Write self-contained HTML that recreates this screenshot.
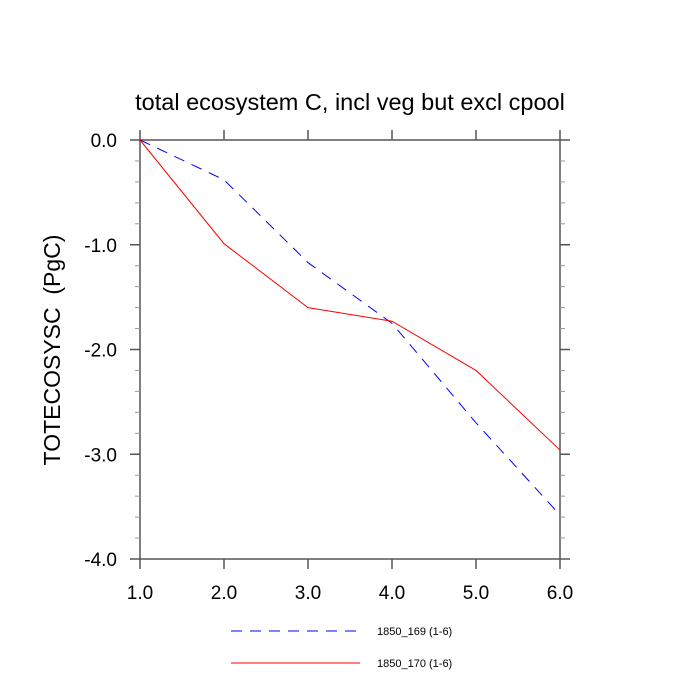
<!DOCTYPE html>
<html><head><meta charset="utf-8"><style>body{margin:0;background:#fff}svg{display:block}</style></head>
<body>
<svg id="chart" width="700" height="700" xmlns="http://www.w3.org/2000/svg" font-family="Liberation Sans, sans-serif">
<text x="350" y="110" text-anchor="middle" font-size="23.5">total ecosystem C, incl veg but excl cpool</text>
<text transform="translate(60,350) rotate(-90)" text-anchor="middle" font-size="23" style="white-space:pre">TOTECOSYSC  (PgC)</text>
<g id="axes"></g>
<g id="series"></g>
<g id="legend"></g>
</svg>
<script>
const xs = [1, 2, 3, 4, 5, 6];
const blueVals = [0, -0.38, -1.17, -1.75, -2.7, -3.58];
const redVals = [0, -0.99, -1.6, -1.73, -2.2, -2.96];
const xTicks = ["1.0","2.0","3.0","4.0","5.0","6.0"];
const yTicks = ["0.0","-1.0","-2.0","-3.0","-4.0"];
const seriesNames = ["1850_169 (1-6)", "1850_170 (1-6)"];

const L=140,R=560,T=140,B=559;
const sx=v=>L+(v-1)/5*(R-L);
const sy=v=>T+(0-v)/4*(B-T);
const NS="http://www.w3.org/2000/svg";
function mk(tag,attrs,parent,txt){const e=document.createElementNS(NS,tag);for(const k in attrs)e.setAttribute(k,attrs[k]);if(txt!==undefined)e.textContent=txt;parent.appendChild(e);return e;}
const ax=document.getElementById('axes');
const fr=mk('rect',{x:L,y:T,width:R-L,height:B-T,fill:'none',stroke:'#555','stroke-width':1.5},ax);


xTicks.forEach((t,i)=>{const x=sx(parseFloat(t));
 mk('line',{x1:x,x2:x,y1:B,y2:B+10,stroke:'#555','stroke-width':1.5},ax);
 mk('line',{x1:x,x2:x,y1:T,y2:T-10,stroke:'#555','stroke-width':1.5},ax);
 const tx=mk('text',{x:x,y:B+40,'text-anchor':'middle','font-size':19},ax,t);
 
 
});
yTicks.forEach(t=>{const y=sy(parseFloat(t));
 mk('line',{x1:L,x2:L-10,y1:y,y2:y,stroke:'#555','stroke-width':1.5},ax);
 mk('line',{x1:R,x2:R+10,y1:y,y2:y,stroke:'#555','stroke-width':1.5},ax);
 const tx=mk('text',{x:L-23,y:y+7,'text-anchor':'end','font-size':19},ax,t);
 
 
});
for(let v=-3.8;v<0;v+=0.2){if(Math.abs(v-Math.round(v))<0.01)continue;const y=sy(v);
 mk('line',{x1:L,x2:L-5,y1:y,y2:y,stroke:'#999','stroke-width':1},ax);
 mk('line',{x1:R,x2:R+5,y1:y,y2:y,stroke:'#999','stroke-width':1},ax);}
const sg=document.getElementById('series');
function pts(vals){return xs.map((x,i)=>sx(x)+','+sy(vals[i])).join(' ');}
const b=mk('polyline',{points:pts(blueVals),fill:'none',stroke:'#0000ff','stroke-width':1,'stroke-dasharray':'11,8'},sg);


const r=mk('polyline',{points:pts(redVals),fill:'none',stroke:'#ff0000','stroke-width':1},sg);


const lg=document.getElementById('legend');
[['#0000ff','11,8',631],['#ff0000','',663]].forEach((d,i)=>{
 const g=mk('g',{},lg);
 
 
 const a={x1:231,x2:360,y1:d[2],y2:d[2],stroke:d[0],'stroke-width':1};if(d[1])a['stroke-dasharray']=d[1];
 mk('line',a,g);
 mk('text',{x:377,y:d[2]+4,'font-size':11},g,seriesNames[i]);
});
</script>
</body></html>
